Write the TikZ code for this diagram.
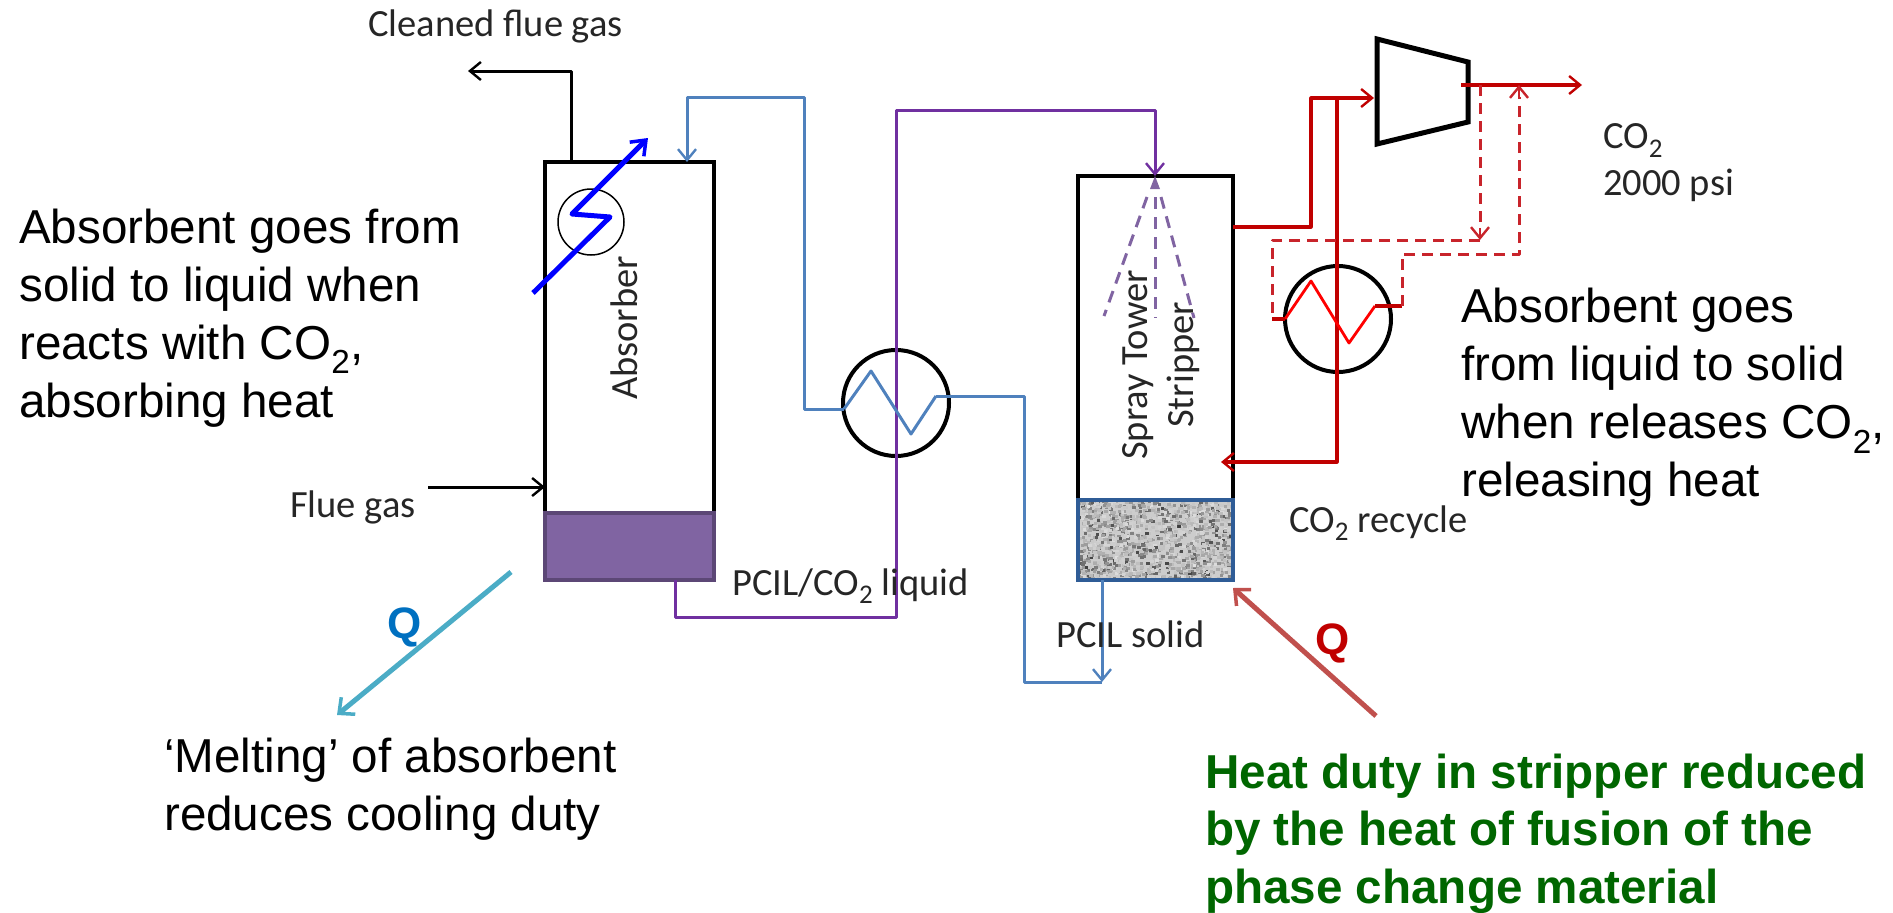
\documentclass[tikz,border=0pt]{standalone}
\usepackage{fontspec}
\setmainfont{Liberation Sans}
\newfontfamily\calibrif{Carlito}
\usetikzlibrary{arrows.meta}
\definecolor{pipeblue}{HTML}{4F81BD}
\definecolor{pipepurple}{HTML}{7030A0}
\definecolor{pipered}{HTML}{C00000}
\definecolor{liquidfill}{HTML}{8064A2}
\definecolor{liquidedge}{HTML}{5C4776}
\definecolor{solidedge}{HTML}{2F5C96}
\definecolor{sprayc}{HTML}{8064A2}
\definecolor{lblc}{HTML}{262626}
\definecolor{qblue}{HTML}{0070C0}
\definecolor{qteal}{HTML}{4BACC6}
\definecolor{qred}{HTML}{C0504D}
\definecolor{greenc}{HTML}{006600}
\definecolor{dashred}{HTML}{C8242B}
\tikzset{
 x=1pt,y=-1pt,
 vessel/.style={draw=black,line width=4pt,rectangle,inner sep=0pt,outer sep=0pt,anchor=north west},
 hxc/.style={draw=black,line width=4pt,circle,inner sep=0pt,outer sep=0pt,minimum size=106pt},
 pipetip/.style={-{Straight Barb[length=11pt,width=18pt,line width=2.4pt]}},
 bluepipe/.style={draw=pipeblue,line width=3pt,line join=round},
 purplepipe/.style={draw=pipepurple,line width=3pt,line join=round},
 redpipe/.style={draw=pipered,line width=3.2pt,line join=round},
 reddash/.style={draw=dashred,line width=3pt,dash pattern=on 11pt off 7pt,line join=round},
 blackpipe/.style={draw=black,line width=3pt,line join=round},
 bigtext/.style={font=\fontsize{47.6}{58}\selectfont,align=left,anchor=north west,inner sep=0pt,text=black},
 greentext/.style={font=\fontsize{47.6}{57.5}\selectfont\bfseries,align=left,anchor=north west,inner sep=0pt,text=greenc},
 smalltext/.style={font=\calibrif\fontsize{38.5}{47}\selectfont,inner sep=0pt,text=lblc},
 qlabel/.style={font=\fontsize{44}{48}\selectfont\bfseries,inner sep=0pt},
}
\begin{document}
\begin{tikzpicture}
\useasboundingbox (0,0) rectangle (1893,913);
% vessels
\node[vessel,minimum width=169pt,minimum height=351pt] (absorber) at (545,162) {};
\node[vessel,minimum width=155pt,minimum height=324pt] (stripper) at (1078,176) {};
\node[vessel,draw=liquidedge,fill=liquidfill,minimum width=169pt,minimum height=67pt] (absliq) at (545,513) {};
% textured solid
\begin{scope}
\clip (1078,500) rectangle (1233,580);
\fill[gray!40] (1078,500) rectangle (1233,580);
\pgfmathsetseed{41}
\foreach \i in {1,...,1500}{
 \pgfmathsetmacro{\px}{1078+155*rnd}
 \pgfmathsetmacro{\py}{500+80*rnd}
 \pgfmathsetmacro{\sh}{int(12+60*rnd*rnd+10*rnd)}
 \fill[black!\sh!white] (\px,\py) rectangle ++(3.5,3);
}
\end{scope}
\node[vessel,draw=solidedge,line width=4.5pt,minimum width=155pt,minimum height=80pt] (stripsol) at (1078,500) {};
\node[hxc] (hxa) at (896,403) {};
\node[hxc] (hxb) at (1338,319) {};
\node[draw=black,line width=1.5pt,circle,inner sep=0pt,minimum size=66pt] (cooler) at (591,222) {};
\draw[line width=5pt,line join=miter] (1377,39) -- (1468,62) -- (1468,122) -- (1377,144) -- cycle;
% named connector ends
\coordinate (cleanS) at (571,162);
\coordinate (cleanE) at (468,71);
\coordinate (flueS) at (428,487);
\coordinate (flueE) at (545,487);
\coordinate (blueIn) at (687,162);
\coordinate (hxaL) at (844,409);
\coordinate (hxaR) at (936,396);
\coordinate (solOut) at (1102,580);
\coordinate (solEnd) at (1102,682);
\coordinate (liqOut) at (675,580);
\coordinate (sprayIn) at (1155,176);
\coordinate (stripOut) at (1233,227);
\coordinate (compIn) at (1374,98);
\coordinate (stripIn) at (1221,462);
\coordinate (co2S) at (1461,85);
\coordinate (co2E) at (1582,85);
\coordinate (dashA) at (1480,85);
\coordinate (dashB) at (1480,240);
\coordinate (dashC) at (1519,85);
\coordinate (hxbL) at (1285,319);
\coordinate (hxbR) at (1375,306);
\coordinate (coolS) at (533,293);
\coordinate (coolE) at (648,138);
\coordinate (tealS) at (511,572);
\coordinate (tealE) at (337,715);
\coordinate (redS) at (1376,716);
\coordinate (redE) at (1233,588);
% black pipes
\draw[blackpipe,pipetip] (cleanS) -- (571,71) -- (cleanE);
\draw[blackpipe,pipetip] (flueS) -- (flueE);
% purple
\draw[purplepipe,pipetip] (liqOut) -- (675,617) -- (896,617) -- (896,110) -- (1155,110) -- (sprayIn);
% blue
\draw[bluepipe,pipetip] (hxaL) -- (804,409) -- (804,97) -- (687,97) -- (blueIn);
\draw[bluepipe] (hxaL) -- (871,371) -- (911,434) -- (hxaR);
\draw[bluepipe] (hxaR) -- (1024,396) -- (1024,682) -- (solEnd);
\draw[bluepipe,pipetip] (solOut) -- (solEnd);
% red
\draw[redpipe] (stripOut) -- (1311,227) -- (1311,98) -- (1337,98);
\draw[redpipe,pipetip] (1311,98) -- (compIn);
\draw[redpipe,pipetip] (1337,98) -- (1337,462) -- (stripIn);
\draw[redpipe,pipetip] (co2S) -- (co2E);
\draw[draw=red,line width=2.8pt,line join=round] (hxbL) -- (1311,281) -- (1349,343) -- (hxbR);
\draw[pipered,line width=4.5pt] (1272,319) -- (hxbL);
\draw[pipered,line width=4.5pt] (hxbR) -- (1402,306);
% dashed red
\draw[reddash] (dashA) -- (1480,228);
\draw[dashred,line width=2.4pt,-{Straight Barb[length=11pt,width=18pt,line width=2.4pt]}] (1480,228) -- (dashB);
\draw[reddash] (dashB) -- (1272,240) -- (1272,319);
\draw[reddash] (1402,306) -- (1402,254) -- (1519,254) -- (1519,97);
\draw[dashred,line width=2.4pt,-{Straight Barb[length=11pt,width=18pt,line width=2.4pt]}] (1519,97) -- (dashC);
% spray nozzle
\fill[sprayc] (sprayIn) -- (1150,189) -- (1160,189) -- cycle;
\draw[sprayc,line width=3pt,dash pattern=on 12pt off 8pt] (1147,197) -- (1104,316);
\draw[sprayc,line width=3pt,dash pattern=on 12pt off 8pt] (1155,197) -- (1155,318);
\draw[sprayc,line width=3pt,dash pattern=on 12pt off 8pt] (1161,197) -- (1194,318);
% cooling element
\draw[draw=blue,line width=5pt,line join=round,-{Straight Barb[length=13pt,width=20pt,line width=3.5pt]}] (coolS) -- (610,217) -- (572,214) -- (coolE);
% Q arrows
\draw[qteal,line width=5pt,-{Straight Barb[length=12pt,width=22pt,line width=3.5pt]}] (tealS) -- (tealE);
\draw[qred,line width=5pt,-{Straight Barb[length=12pt,width=22pt,line width=3.5pt]}] (redS) -- (redE);
% labels
\node[smalltext,anchor=base west] (lclean) at (368,36) {Cleaned flue gas};
\node[smalltext,anchor=base west] (lflue) at (290,517) {Flue gas};
\node[smalltext,rotate=90,anchor=base west] (labs) at (637,400) {Absorber};
\node[smalltext,rotate=90,anchor=base west] (lspray) at (1147,460) {Spray Tower};
\node[smalltext,rotate=90,anchor=base west] (lstrip) at (1193,428) {Stripper};
\node[smalltext,anchor=base west] (lliq) at (732,595) {PCIL/CO\textsubscript{2} liquid};
\node[smalltext,anchor=base west] (lsol) at (1056,647) {PCIL solid};
\node[smalltext,anchor=base west] (lrec) at (1289,532) {CO\textsubscript{2} recycle};
\node[smalltext,anchor=north west,align=left] (lco2) at (1603,123) {CO\textsubscript{2}\\2000 psi};
\node[bigtext] (tabs) at (19,208.5) {Absorbent goes from\\solid to liquid when\\reacts with CO\textsubscript{2},\\absorbing heat};
\node[bigtext] (tstr) at (1461,288.3) {Absorbent goes\\from liquid to solid\\when releases CO\textsubscript{2},\\releasing heat};
\node[bigtext] (tmelt) at (164,737.3) {‘Melting’ of absorbent\\reduces cooling duty};
\node[greentext] (tgreen) at (1205,753.3) {Heat duty in stripper reduced\\by the heat of fusion of the\\phase change material};
\node[qlabel,text=qblue] (qa) at (405,627) {Q};
\node[qlabel,text=pipered] (qb) at (1333,643) {Q};
\end{tikzpicture}
\end{document}
